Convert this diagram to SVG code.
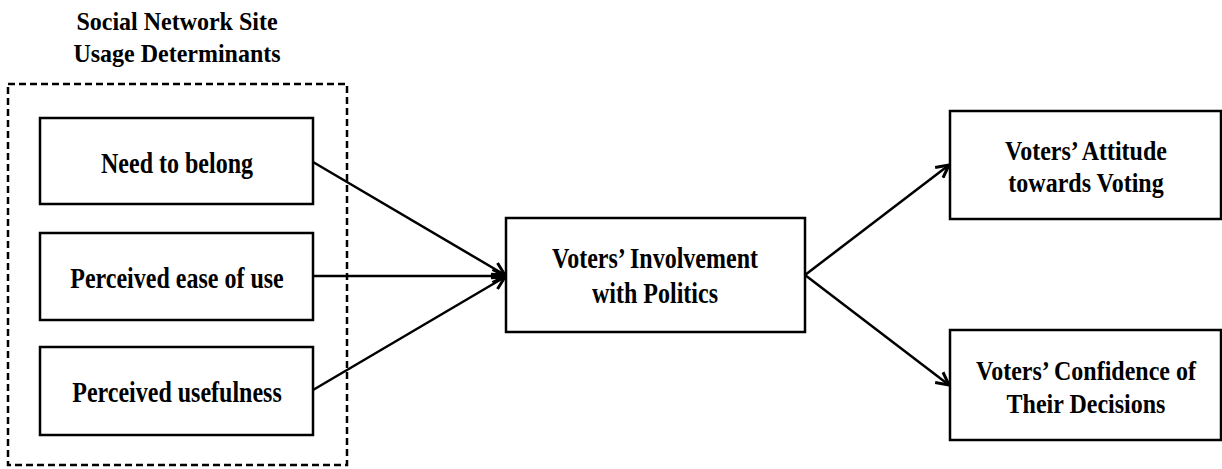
<svg xmlns="http://www.w3.org/2000/svg" width="1222" height="469" viewBox="0 0 1222 469">
  <style>
    .box { fill: #ffffff; stroke: #000000; stroke-width: 2.5; }
    .group { fill: none; stroke: #000000; stroke-width: 2.5; stroke-dasharray: 7 4; }
    .label { font-family: "Liberation Serif", "Times New Roman", serif; font-weight: bold; font-size: 24px; fill: #000000; text-anchor: middle; }
    .edge { fill: none; stroke: #000000; stroke-width: 2.5; marker-end: url(#arrow); }
  </style>
  <defs>
    <marker id="arrow" viewBox="0 0 16 16" refX="14.5" refY="8" markerWidth="16" markerHeight="16" markerUnits="userSpaceOnUse" orient="auto">
      <path d="M2,1.5 L14.5,8 L2,14.5" fill="none" stroke="#000000" stroke-width="3" stroke-linejoin="miter"/>
    </marker>
  </defs>
  <rect width="1222" height="469" fill="#ffffff"/>

  <!-- determinants group -->
  <g id="determinants">
    <text class="label" transform="translate(177,30) scale(1,1.05)">Social Network Site</text>
    <text class="label" transform="translate(177,62) scale(1,1.05)">Usage Determinants</text>
    <rect class="group" x="8" y="84" width="339" height="381"/>
  </g>

  <g id="need-to-belong">
    <rect class="box" x="40" y="118" width="273" height="86"/>
    <text class="label" transform="translate(177,173) scale(1,1.22)">Need to belong</text>
  </g>
  <g id="ease-of-use">
    <rect class="box" x="40" y="233" width="273" height="87"/>
    <text class="label" transform="translate(177,288) scale(1,1.22)">Perceived ease of use</text>
  </g>
  <g id="usefulness">
    <rect class="box" x="40" y="347" width="273" height="88"/>
    <text class="label" transform="translate(177,402) scale(1,1.22)">Perceived usefulness</text>
  </g>

  <g id="involvement">
    <rect class="box" x="506" y="218" width="299" height="114"/>
    <text class="label" transform="translate(655,268) scale(1,1.22)">Voters’ Involvement</text>
    <text class="label" transform="translate(655,303) scale(1,1.22)">with Politics</text>
  </g>

  <g id="attitude">
    <rect class="box" x="950" y="111" width="271" height="108"/>
    <text class="label" transform="translate(1086,160) scale(1,1.18)">Voters’ Attitude</text>
    <text class="label" transform="translate(1086,192) scale(1,1.18)">towards Voting</text>
  </g>

  <g id="confidence">
    <rect class="box" x="950" y="330" width="271" height="110"/>
    <text class="label" transform="translate(1086,380) scale(1,1.18)">Voters’ Confidence of</text>
    <text class="label" transform="translate(1086,413) scale(1,1.18)">Their Decisions</text>
  </g>

  <g id="connectors">
    <line class="edge" x1="313" y1="162" x2="505" y2="275"/>
    <line class="edge" x1="313" y1="276" x2="505" y2="276"/>
    <line class="edge" x1="313" y1="390" x2="505" y2="277"/>
    <line class="edge" x1="805" y1="275" x2="949" y2="165"/>
    <line class="edge" x1="805" y1="275" x2="949" y2="385"/>
  </g>
</svg>
